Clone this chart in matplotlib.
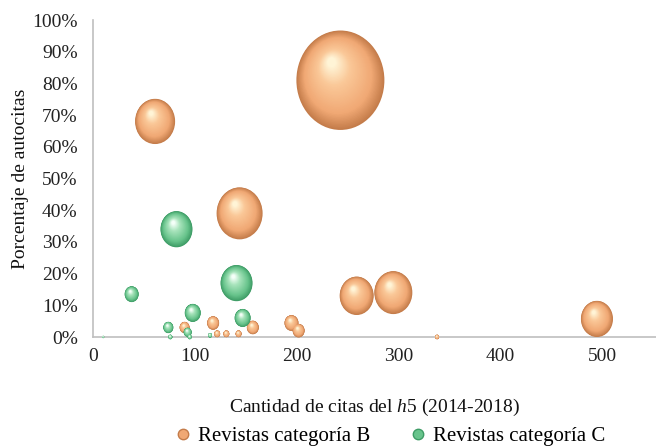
import numpy as np
import matplotlib
matplotlib.use("Agg")
import matplotlib.pyplot as plt
from matplotlib.path import Path
from matplotlib.lines import Line2D
from matplotlib.colors import to_rgb

plt.rcParams['font.family'] = ['Liberation Serif', 'DejaVu Serif']
plt.rcParams['mathtext.fontset'] = 'custom'
plt.rcParams['mathtext.rm'] = 'Liberation Serif'
plt.rcParams['mathtext.it'] = 'Liberation Serif:italic'

# ---- data ----
series_names = ["Revistas categoría B", "Revistas categoría C"]

citas_B = [243, 61, 144, 259, 295, 495, 338, 90, 118, 122, 131, 143, 157, 195, 202]
autoc_B = [0.81, 0.68, 0.39, 0.13, 0.14, 0.057, 0.00, 0.03, 0.044, 0.01, 0.01, 0.01, 0.03, 0.044, 0.02]
tam_B = [1936, 400, 529, 289, 361, 256, 4, 25, 36, 9, 9, 9, 36, 49, 36]

citas_C = [82, 141, 38, 98, 147, 74, 93, 76, 95, 115, 10]
autoc_C = [0.34, 0.17, 0.135, 0.076, 0.06, 0.03, 0.015, 0.0, 0.0, 0.005, 0.0]
tam_C = [256, 256, 49, 64, 64, 25, 16, 4, 4, 4, 1]

x_ticks = [0, 100, 200, 300, 400, 500]
y_ticks = [0, 0.1, 0.2, 0.3, 0.4, 0.5, 0.6, 0.7, 0.8, 0.9, 1.0]
y_ticklabels = ["0%", "10%", "20%", "30%", "40%", "50%", "60%", "70%", "80%", "90%", "100%"]

# ---- style ----
palettes = {
    0: dict(edge="#C47C4A", base="#F0A874", light="#FAC898", hi="#FFF4D6"),
    1: dict(edge="#3E9C66", base="#68C48C", light="#A8E4BC", hi="#F4FFF8"),
}
ASPECT = 1.13  # bubbles slightly taller than wide

DPI = 100
fig = plt.figure(figsize=(6.56, 4.48), dpi=DPI)
ax = fig.add_axes([93 / 656, 111 / 448, 1 - 93 / 656, 317 / 448])
ax.set_xlim(0, 553)
ax.set_ylim(0, 1.0)

for s in ["top", "right"]:
    ax.spines[s].set_visible(False)
for s in ["left", "bottom"]:
    ax.spines[s].set_color("#BFBFBF")
    ax.spines[s].set_linewidth(1.2)

ax.set_xticks(x_ticks)
ax.set_yticks(y_ticks)
ax.set_yticklabels(y_ticklabels)
ax.tick_params(axis="both", length=0, labelsize=14, colors="#222222")
ax.tick_params(axis="x", pad=8)
ax.tick_params(axis="y", pad=11)

ax.set_xlabel(r"Cantidad de citas del $\mathit{h}$5 (2014-2018)", fontsize=14,
              color="#111111", labelpad=23)
ax.set_ylabel("Porcentaje de autocitas", fontsize=14, color="#111111", labelpad=2)

# ellipse marker path
circ = Path.unit_circle()
ell = Path(circ.vertices * np.array([1.0, ASPECT]), circ.codes)


def lerp(c1, c2, t):
    a, b = np.array(to_rgb(c1)), np.array(to_rgb(c2))
    return tuple(a + (b - a) * t)


def shade(pal, t):
    if t < 0.25:
        return lerp(pal["edge"], pal["base"], t / 0.25)
    if t < 0.7:
        return lerp(pal["base"], pal["light"], (t - 0.25) / 0.45)
    return lerp(pal["light"], pal["hi"], (t - 0.7) / 0.3)


def draw_series(xs, ys, sizes, pal, z):
    xs = np.asarray(xs, float)
    ys = np.asarray(ys, float)
    rx = np.sqrt(np.asarray(sizes, float))  # radius in px
    order = np.argsort(-rx)
    xs, ys, rx = xs[order], ys[order], rx[order]
    disp = ax.transData.transform(np.column_stack([xs, ys]))
    inv = ax.transData.inverted()
    n = 45
    for k in range(n):
        t = k / (n - 1)
        f = 1 - 0.9 * t
        off = np.column_stack([-0.2 * rx * t, 0.36 * rx * ASPECT * t])
        pts = inv.transform(disp + off)
        diam_pt = 2 * rx * ASPECT * f * 72 / DPI
        ax.scatter(pts[:, 0], pts[:, 1], s=diam_pt ** 2, marker=ell,
                   color=shade(pal, t), linewidths=0, zorder=z + k * 0.001,
                   clip_on=False)


draw_series(citas_B, autoc_B, tam_B, palettes[0], 3)
draw_series(citas_C, autoc_C, tam_C, palettes[1], 4)

handles = [
    Line2D([], [], linestyle="none", marker="o", markersize=7.5,
           markerfacecolor=palettes[i]["base"], markeredgecolor=palettes[i]["edge"],
           markeredgewidth=1.0)
    for i in range(2)
]
fig.legend(handles, series_names, loc="lower center", ncol=2, frameon=False,
           fontsize=15, bbox_to_anchor=(0.593, -0.037), handletextpad=0.25,
           columnspacing=1.76, handlelength=1.0)

fig.savefig("out.png", dpi=DPI)
